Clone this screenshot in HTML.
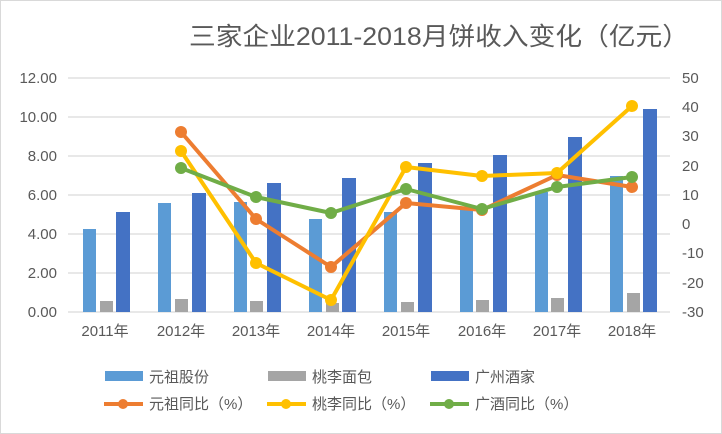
<!DOCTYPE html>
<html><head><meta charset="utf-8"><style>
body{margin:0;background:#fff}
svg{display:block;font-family:"Liberation Sans","Noto Sans CJK SC",sans-serif}
</style></head><body>
<svg width="722" height="434" viewBox="0 0 722 434" xmlns="http://www.w3.org/2000/svg">
<rect x="0.5" y="0.5" width="721" height="433" fill="#fff" stroke="#d9d9d9"/>
<text x="189" y="45" textLength="500" lengthAdjust="spacingAndGlyphs" font-size="25" fill="#595959" font-family="'Liberation Sans','Noto Sans CJK SC',sans-serif">三家企业2011-2018月饼收入变化（亿元）</text>
<g stroke="#d9d9d9" stroke-width="1.3">
<line x1="68" x2="670" y1="78" y2="78"/><line x1="68" x2="670" y1="117" y2="117"/>
<line x1="68" x2="670" y1="156" y2="156"/><line x1="68" x2="670" y1="195" y2="195"/>
<line x1="68" x2="670" y1="234" y2="234"/><line x1="68" x2="670" y1="273" y2="273"/>
<line x1="68" x2="670" y1="312" y2="312"/>
</g>
<g font-size="15" fill="#595959" text-anchor="end">
<text x="57" y="83">12.00</text><text x="57" y="122">10.00</text><text x="57" y="161">8.00</text>
<text x="57" y="200">6.00</text><text x="57" y="239">4.00</text><text x="57" y="278">2.00</text><text x="57" y="317">0.00</text>
</g>
<g font-size="15" fill="#595959">
<text x="682" y="83">50</text><text x="682" y="112">40</text><text x="682" y="141">30</text>
<text x="682" y="171">20</text><text x="682" y="200">10</text><text x="682" y="229">0</text>
<text x="682" y="258">-10</text><text x="682" y="288">-20</text><text x="682" y="317">-30</text>
</g>
<g font-size="15" fill="#595959" text-anchor="middle">
<text x="105" y="336">2011年</text><text x="181" y="336">2012年</text><text x="256" y="336">2013年</text>
<text x="331" y="336">2014年</text><text x="406" y="336">2015年</text><text x="482" y="336">2016年</text>
<text x="557" y="336">2017年</text><text x="632" y="336">2018年</text>
</g>
<g fill="#5b9bd5">
<rect x="83" y="229" width="13" height="83"/><rect x="158" y="203" width="13" height="109"/>
<rect x="234" y="202" width="13" height="110"/><rect x="309" y="219" width="13" height="93"/>
<rect x="384" y="212" width="13" height="100"/><rect x="460" y="208" width="13" height="104"/>
<rect x="535" y="192" width="13" height="120"/><rect x="610" y="176" width="13" height="136"/>
</g>
<g fill="#a5a5a5">
<rect x="100" y="301" width="13" height="11"/><rect x="175" y="299" width="13" height="13"/>
<rect x="250" y="301" width="13" height="11"/><rect x="326" y="303" width="13" height="9"/>
<rect x="401" y="302" width="13" height="10"/><rect x="476" y="300" width="13" height="12"/>
<rect x="551" y="298" width="13" height="14"/><rect x="627" y="293" width="13" height="19"/>
</g>
<g fill="#4472c4">
<rect x="116" y="212" width="14" height="100"/><rect x="192" y="193" width="14" height="119"/>
<rect x="267" y="183" width="14" height="129"/><rect x="342" y="178" width="14" height="134"/>
<rect x="418" y="163" width="14" height="149"/><rect x="493" y="155" width="14" height="157"/>
<rect x="568" y="137" width="14" height="175"/><rect x="643" y="109" width="14" height="203"/>
</g>
<g fill="none" stroke-width="4" stroke-linejoin="round">
<polyline stroke="#ed7d31" points="181,132 256,219 331,267 406,203 482,210 557,175 632,187"/>
<polyline stroke="#ffc000" points="181,151 256,263 331,300 406,167 482,176 557,173 632,106"/>
<polyline stroke="#70ad47" points="181,168 256,197 331,213 406,189 482,209 557,187 632,177"/>
</g>
<g fill="#ed7d31"><circle cx="181" cy="132" r="6"/><circle cx="256" cy="219" r="6"/><circle cx="331" cy="267" r="6"/><circle cx="406" cy="203" r="6"/><circle cx="482" cy="210" r="6"/><circle cx="557" cy="175" r="6"/><circle cx="632" cy="187" r="6"/></g>
<g fill="#ffc000"><circle cx="181" cy="151" r="6"/><circle cx="256" cy="263" r="6"/><circle cx="331" cy="300" r="6"/><circle cx="406" cy="167" r="6"/><circle cx="482" cy="176" r="6"/><circle cx="557" cy="173" r="6"/><circle cx="632" cy="106" r="6"/></g>
<g fill="#70ad47"><circle cx="181" cy="168" r="6"/><circle cx="256" cy="197" r="6"/><circle cx="331" cy="213" r="6"/><circle cx="406" cy="189" r="6"/><circle cx="482" cy="209" r="6"/><circle cx="557" cy="187" r="6"/><circle cx="632" cy="177" r="6"/></g>
<rect x="105" y="371" width="38" height="10" fill="#5b9bd5"/>
<rect x="268" y="371" width="38" height="10" fill="#a5a5a5"/>
<rect x="431" y="371" width="38" height="10" fill="#4472c4"/>
<g font-size="15" fill="#595959">
<text x="149" y="382">元祖股份</text><text x="312" y="382">桃李面包</text><text x="475" y="382">广州酒家</text>
<text x="149" y="409">元祖同比（%）</text><text x="312" y="409">桃李同比（%）</text><text x="475" y="409">广酒同比（%）</text>
</g>
<g stroke-width="4">
<line x1="104" x2="143" y1="404" y2="404" stroke="#ed7d31"/><circle cx="123" cy="404" r="5" fill="#ed7d31"/>
<line x1="267" x2="306" y1="404" y2="404" stroke="#ffc000"/><circle cx="286" cy="404" r="5" fill="#ffc000"/>
<line x1="430" x2="469" y1="404" y2="404" stroke="#70ad47"/><circle cx="449" cy="404" r="5" fill="#70ad47"/>
</g>
</svg>
</body></html>
